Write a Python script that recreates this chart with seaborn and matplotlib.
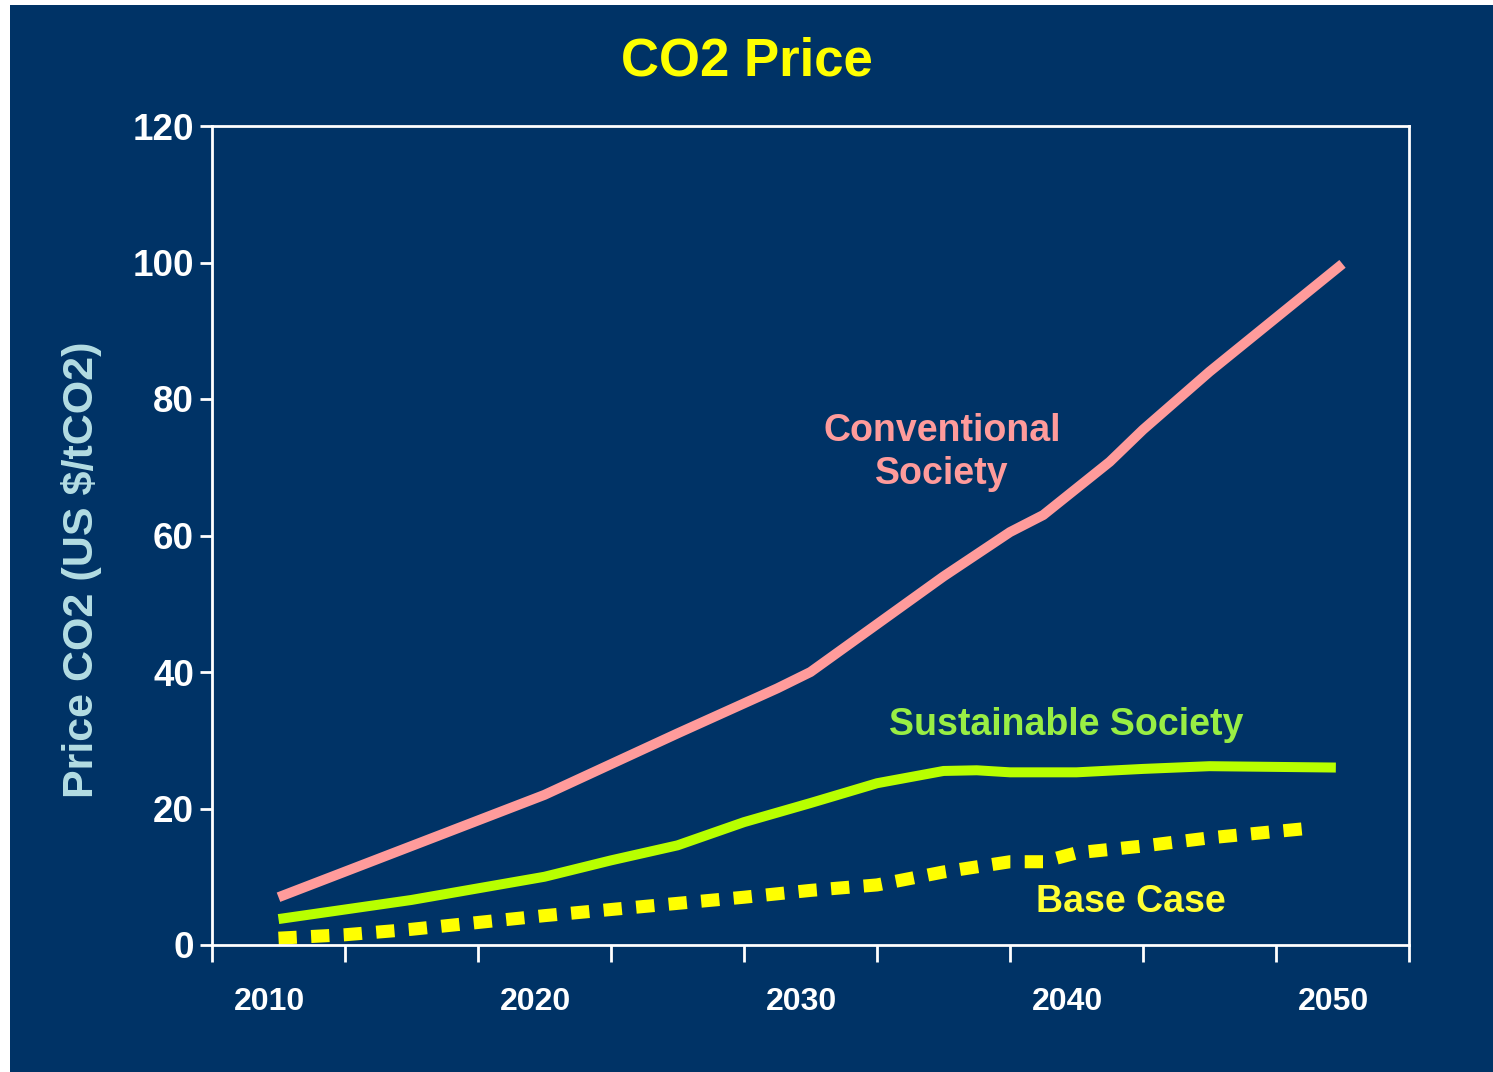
import numpy as np
import pandas as pd
import matplotlib
matplotlib.use("Agg")
import matplotlib.pyplot as plt
import seaborn as sns
from matplotlib.patches import Rectangle

# Data
conv_years = [2010, 2015, 2020, 2025, 2028.75, 2030, 2032.5, 2035, 2037.5, 2038.75,
              2041.25, 2042.5, 2045, 2050]
conv_price = [7, 14.5, 22, 31, 37.6, 40, 47, 54, 60.5, 63, 70.8, 75.5, 84, 99.8]

sust_years = [2010, 2015, 2017.5, 2020, 2022.5, 2025, 2027.5, 2030, 2032.5, 2035,
              2036.25, 2037.5, 2040, 2042.5, 2045, 2049.75]
sust_price = [3.8, 6.6, 8.3, 10, 12.4, 14.6, 18, 20.8, 23.7, 25.5, 25.6, 25.3,
              25.3, 25.8, 26.2, 26]

base_years = [2010, 2012.5, 2015, 2017.5, 2020, 2022.5, 2025, 2027.5, 2030, 2032.5,
              2035, 2037.5, 2038.75, 2040, 2042.5, 2045, 2049]
base_price = [1.0, 1.5, 2.3, 3.3, 4.3, 5.2, 6.1, 7.0, 8.0, 8.8, 10.7, 12.2, 12.2,
              13.5, 14.5, 15.7, 17.2]

year_labels = [2010, 2020, 2030, 2040, 2050]
y_ticks = [0, 20, 40, 60, 80, 100, 120]

NAVY = "#003366"
PINK = "#FF9B9B"
GREEN = "#B8FF00"
YELLOW = "#FFFF00"

sns.set_theme(style="ticks")
plt.rcParams["font.family"] = ["Liberation Sans", "DejaVu Sans"]
plt.rcParams["font.weight"] = "bold"

fig = plt.figure(figsize=(14.93, 10.72), dpi=100, facecolor="white")
# navy slide background, leaving the thin white strip on top and left
fig.patches.append(Rectangle((10 / 1493, 0), 1, 1 - 5 / 1072, transform=fig.transFigure,
                             facecolor=NAVY, edgecolor="none", zorder=-10))

ax = fig.add_axes([212 / 1493, 1 - 945 / 1072, 1197 / 1493, 819 / 1072])
ax.set_facecolor(NAVY)

conv = pd.DataFrame({"year": conv_years, "price": conv_price})
sust = pd.DataFrame({"year": sust_years, "price": sust_price})
base = pd.DataFrame({"year": base_years, "price": base_price})

sns.lineplot(data=conv, x="year", y="price", ax=ax, color=PINK, linewidth=7.2,
             estimator=None, sort=False, solid_capstyle="butt")
sns.lineplot(data=sust, x="year", y="price", ax=ax, color=GREEN, linewidth=7.2,
             estimator=None, sort=False, solid_capstyle="butt")
sns.lineplot(data=base, x="year", y="price", ax=ax, color=YELLOW, linewidth=9.4,
             estimator=None, sort=False, linestyle=(0, (1.4, 1.1)),
             dash_capstyle="butt")

ax.set_xlim(2007.5, 2052.5)
ax.set_ylim(0, 120)

for s in ax.spines.values():
    s.set_color("white")
    s.set_linewidth(2)

ax.set_yticks(y_ticks)
ax.set_yticklabels([str(v) for v in y_ticks], fontsize=26.5, fontweight="bold", color="white")
ax.tick_params(axis="y", colors="white", length=9, width=2, pad=4)

# labels sit a little left of the year, tick marks every 5 years between them
ax.set_xticks([y - 0.35 for y in year_labels])
ax.set_xticklabels([str(v) for v in year_labels], fontsize=23, fontweight="bold", color="white")
ax.tick_params(axis="x", which="major", length=0, pad=30)
ax.set_xticks(np.arange(2007.5, 2053, 5), minor=True)
ax.tick_params(axis="x", which="minor", colors="white", length=12, width=2, direction="out")

ax.set_xlabel("")
ax.set_ylabel("Price CO2 (US $/tCO2)", fontsize=31, fontweight="bold", color="#B4DDE3")
ax.yaxis.set_label_coords(-0.092, 0.458)

fig.text(747 / 1493, 1 - 62 / 1072, "CO2 Price", fontsize=38, fontweight="bold",
         color=YELLOW, ha="center", va="center")

ax.text(2034.95, 72.2, "Conventional\nSociety", fontsize=27, fontweight="bold", color=PINK,
        ha="center", va="center", linespacing=1.25)
ax.text(2039.6, 32.2, "Sustainable Society", fontsize=27, fontweight="bold", color="#99EE44",
        ha="center", va="center")
ax.text(2042.05, 6.3, "Base Case", fontsize=27, fontweight="bold", color="#FFFF33",
        ha="center", va="center")

fig.savefig("out.png", dpi=100, facecolor=fig.get_facecolor())
